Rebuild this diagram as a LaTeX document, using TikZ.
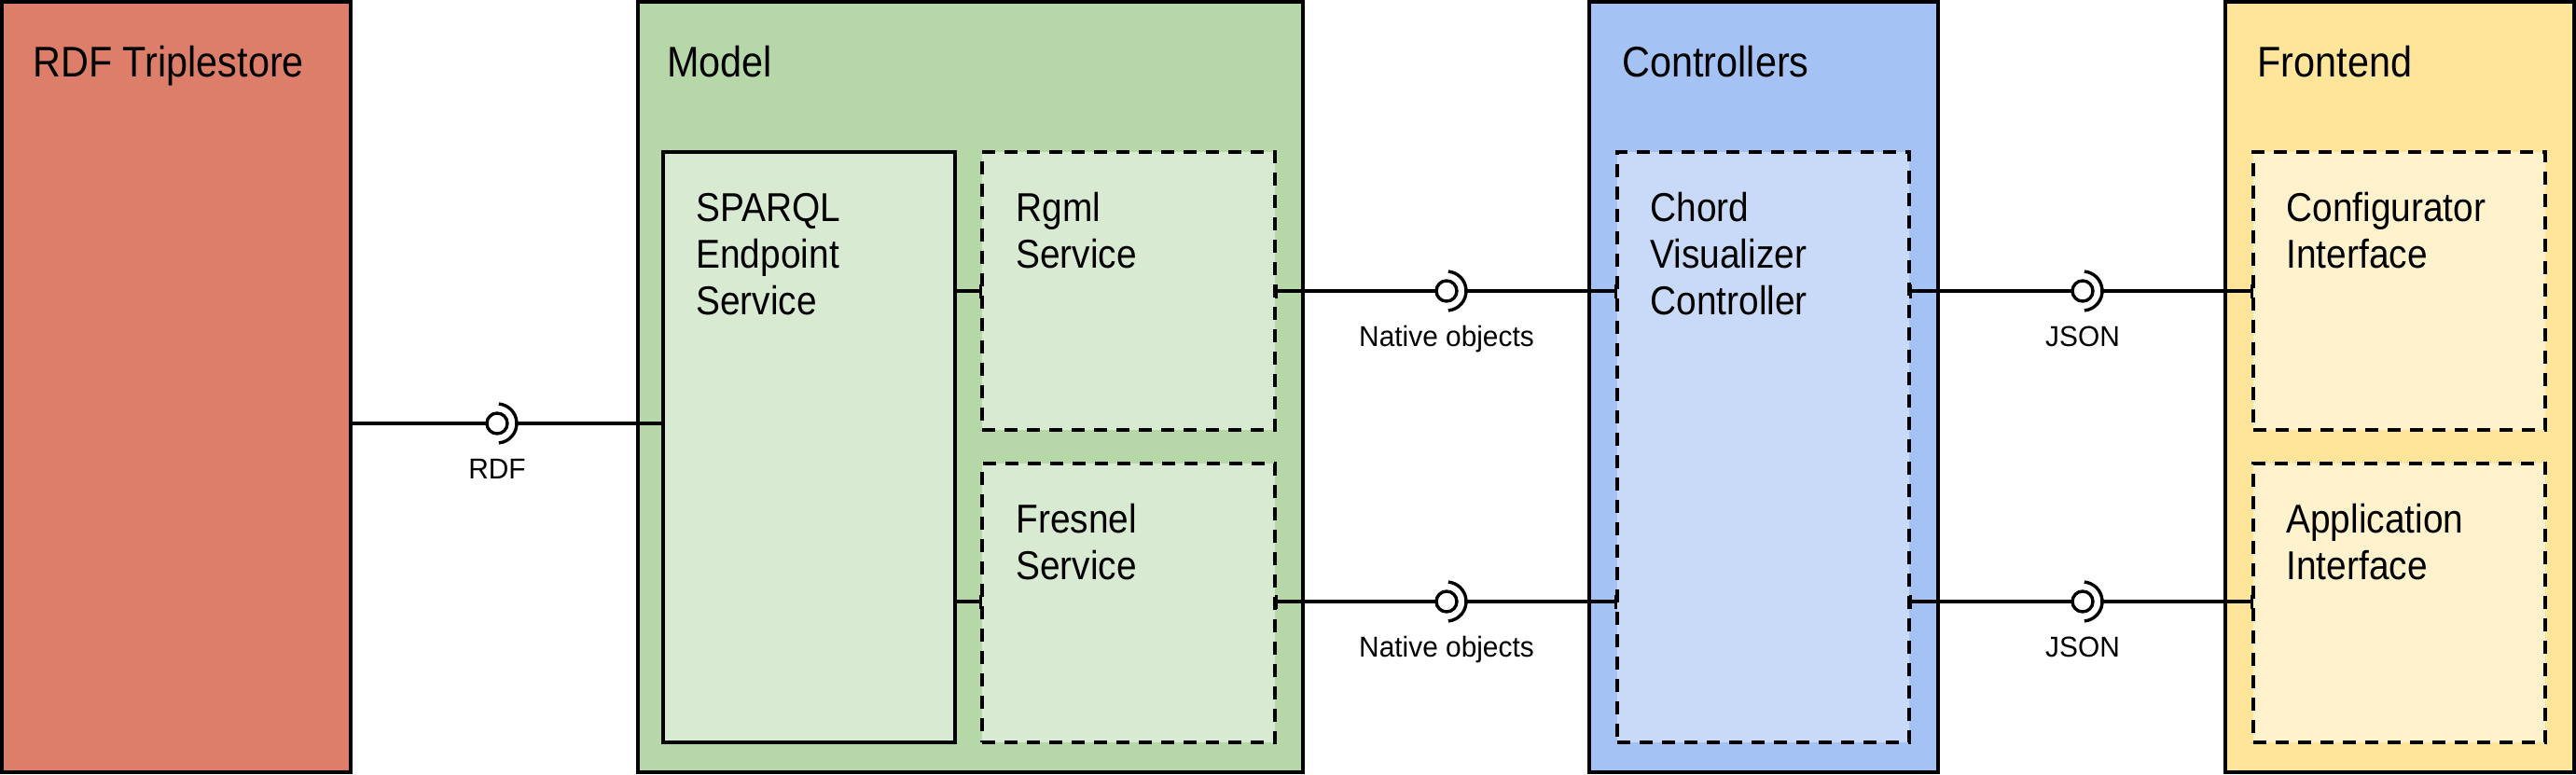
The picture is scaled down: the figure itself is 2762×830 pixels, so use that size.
\documentclass[tikz,border=0pt]{standalone}
\usepackage{fontspec}
\setmainfont[FakeStretch=0.9]{Liberation Sans}
\newfontfamily\lblfont[FakeStretch=0.97]{Liberation Sans}
\usetikzlibrary{arrows.meta,calc}
\definecolor{rdfred}{HTML}{DD7E6B}
\definecolor{mgreen}{HTML}{B6D7A8}
\definecolor{mgreenl}{HTML}{D9EAD3}
\definecolor{cblue}{HTML}{A4C2F4}
\definecolor{cbluel}{HTML}{C9DAF8}
\definecolor{fyel}{HTML}{FFE599}
\definecolor{fyell}{HTML}{FFF2CC}
\newcommand\mybox[6]{%
  \node[#2, minimum width={(#5-#3)*0.5pt}, minimum height={(#6-#4)*0.5pt}, anchor=north west] (#1) at (#3,#4) {};}
\begin{document}
\begin{tikzpicture}[x=0.5pt,y=-0.5pt,
  outerbox/.style={draw=black, line width=2pt, inner sep=0pt, outer sep=0pt, rectangle},
  solidbox/.style={draw=black, line width=2pt, inner sep=0pt, outer sep=0pt, rectangle},
  dashbox/.style={draw=black, line width=2pt, inner sep=0pt, outer sep=0pt, rectangle, dash pattern=on 7pt off 5pt},
  titletext/.style={inner sep=0pt, anchor=base west, font={\fontsize{23pt}{27pt}\selectfont}},
  intext/.style={inner sep=0pt, anchor=base west, align=left, font={\fontsize{21.6pt}{25pt}\selectfont}},
  lbltext/.style={inner sep=0pt, anchor=base, font={\lblfont\fontsize{15.4pt}{18pt}\selectfont}},
  iface/.style={circle, draw=black, line width=1.7pt, minimum size=11pt, inner sep=0pt, outer sep=0pt},
  conn/.style={line width=1.7pt},
  tick/.style={line width=1.7pt, -{Bar[width=7.5pt]}}
]
\fill[white] (0,0) rectangle (2762,830);
\useasboundingbox (0,0) rectangle (2762,830);

% outer boxes
\mybox{rdf}{outerbox, fill=rdfred}{2}{2}{376}{828}
\mybox{model}{outerbox, fill=mgreen}{684}{2}{1397}{828}
\mybox{ctrl}{outerbox, fill=cblue}{1704}{2}{2078}{828}
\mybox{front}{outerbox, fill=fyel}{2386}{2}{2760}{828}

% inner boxes
\mybox{sparql}{solidbox, fill=mgreenl}{711}{163}{1024}{796}
\mybox{rgml}{dashbox, fill=mgreenl}{1053}{163}{1367}{461}
\mybox{fresnel}{dashbox, fill=mgreenl}{1053}{497}{1367}{796}
\mybox{chord}{dashbox, fill=cbluel}{1734}{163}{2047}{796}
\mybox{config}{dashbox, fill=fyell}{2416}{163}{2729}{461}
\mybox{app}{dashbox, fill=fyell}{2416}{497}{2729}{796}

% titles
\node[titletext] (rdft) at (35,82) {RDF Triplestore};
\node[titletext] (modelt) at (715,82) {Model};
\node[titletext] (ctrlt) at (1739,82) {Controllers};
\node[titletext] (frontt) at (2420,82) {Frontend};

% (base anchor = baseline of the last line)
\node[intext] (sparqlt) at (746,337) {SPARQL\\Endpoint\\Service};
\node[intext] (rgmlt) at (1089,287) {Rgml\\Service};
\node[intext] (fresnelt) at (1089,621) {Fresnel\\Service};
\node[intext] (chordt) at (1769,337) {Chord\\Visualizer\\Controller};
\node[intext] (configt) at (2451,287) {Configurator\\Interface};
\node[intext] (appt) at (2451,621) {Application\\Interface};

% interface symbols
\node[iface] (i1) at (533,454) {};
\node[iface] (i2) at (1551,312) {};
\node[iface] (i3) at (1551,645) {};
\node[iface] (i4) at (2233,312) {};
\node[iface] (i5) at (2233,645) {};
\foreach \i in {i1,i2,i3,i4,i5}{
  \draw[conn] ($(\i.center)+(-85:10.5pt)$) arc[start angle=-85, end angle=85, radius=10.5pt];
  \coordinate (\i r) at ($(\i.center)+(10.5pt,0)$);
}

\node[lbltext] (l1) at (533,513) {RDF};
\node[lbltext] (l2) at (1551,371) {Native objects};
\node[lbltext] (l3) at (1551,704) {Native objects};
\node[lbltext] (l4) at (2233,371) {JSON};
\node[lbltext] (l5) at (2233,704) {JSON};

% connectors
\draw[conn] (rdf.east |- i1) -- (i1.west);
\draw[conn] (i1r) -- (sparql.west |- i1);

\draw[tick] (sparql.east |- i2) -- (rgml.west |- i2);
\draw[tick] (sparql.east |- i3) -- (fresnel.west |- i3);

\draw[tick] (i2.west) -- (rgml.east |- i2);
\draw[tick] (i2r) -- (chord.west |- i2);
\draw[tick] (i3.west) -- (fresnel.east |- i3);
\draw[tick] (i3r) -- (chord.west |- i3);

\draw[tick] (i4.west) -- (chord.east |- i4);
\draw[tick] (i4r) -- (config.west |- i4);
\draw[tick] (i5.west) -- (chord.east |- i5);
\draw[tick] (i5r) -- (app.west |- i5);
\end{tikzpicture}
\end{document}
